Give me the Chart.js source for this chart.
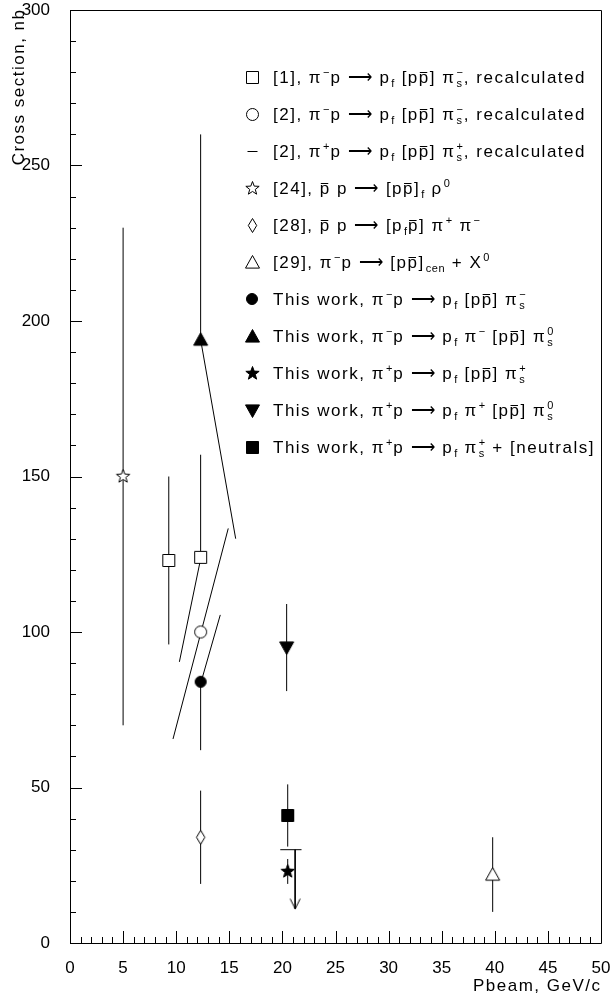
<!DOCTYPE html>
<html>
<head>
<meta charset="utf-8">
<script src="https://cdn.jsdelivr.net/npm/chart.js@4.4.0/dist/chart.umd.min.js"></script>
<style>
  html, body { margin: 0; padding: 0; background: #fff; }
  #wrap { width: 612px; height: 999px; }
</style>
</head>
<body>
<div id="wrap"><canvas id="xsec" width="612" height="999"></canvas></div>
<script>
// measured points, Pbeam (GeV/c) vs cross section (nb)
const squareOpen = [{x: 9.3, y: 123}, {x: 12.3, y: 124}];
const circleOpen = [{x: 12.3, y: 100}];
const starOpen = [{x: 5, y: 150}];
const diamondOpen = [{x: 12.3, y: 34}];
const triangleOpen = [{x: 39.8, y: 22}];
const circleFilled = [{x: 12.3, y: 84}];
const triangleFilled = [{x: 12.3, y: 194}];
const starFilled = [{x: 20.5, y: 23}];
const triangleDownFilled = [{x: 20.4, y: 95}];
const squareFilled = [{x: 20.5, y: 41}];

// vertical error bars: [x, low, high]
const errorBars = [
    [5, 70, 230], [9.3, 96, 150], [12.3, 124, 157], [12.3, 194, 260],
    [12.3, 62, 84], [12.3, 19, 49], [20.4, 81, 109], [20.5, 31, 51],
    [20.5, 19, 27], [39.8, 10, 34]
];
// tilted bars: [x1, y1, x2, y2]
const slopedBars = [
    [12.3, 194, 15.6, 130], [12.3, 123.5, 10.3, 90.4],
    [9.7, 65.6, 14.9, 133.3], [12.4, 84.6, 14.15, 105.5]
];
// upper limit [2] pi+ p : bar from x1 to x2 at y, arrow at xArrow down to yArrow
const upperLimit = {x1: 19.8, x2: 21.8, y: 30, xArrow: 21.2, yArrow: 11};

const xTicks = [0, 5, 10, 15, 20, 25, 30, 35, 40, 45, 50];
const yTicks = [0, 50, 100, 150, 200, 250, 300];

// legend rows; ^ = superscript, _ = subscript, ! = overlined next char, {} groups
const legendLabels = [
    '[1], π^{−}p ⟶ p_{f} [p!p] π_{s}^{−}, recalculated',
    '[2], π^{−}p ⟶ p_{f} [p!p] π_{s}^{−}, recalculated',
    '[2], π^{+}p ⟶ p_{f} [p!p] π_{s}^{+}, recalculated',
    '[24], !p p ⟶ [p!p]_{f} ρ^{0}',
    '[28], !p p ⟶ [p_{f}!p] π^{+} π^{−}',
    '[29], π^{−}p ⟶ [p!p]_{cen} + X^{0}',
    'This work, π^{−}p ⟶ p_{f} [p!p] π_{s}^{−}',
    'This work, π^{−}p ⟶ p_{f} π^{−} [p!p] π_{s}^{0}',
    'This work, π^{+}p ⟶ p_{f} [p!p] π_{s}^{+}',
    'This work, π^{+}p ⟶ p_{f} π^{+} [p!p] π_{s}^{0}',
    'This work, π^{+}p ⟶ p_{f} π_{s}^{+} + [neutrals]'
];

const FONT = '"Liberation Sans", Arial, sans-serif';
const GAP = 1.5; // the original font runs wide

function marker(shape, filled, r) {
    const s = Math.ceil(r * 2) + 5;
    const c = document.createElement('canvas');
    c.width = s; c.height = s;
    const g = c.getContext('2d');
    const m = s / 2;
    g.lineWidth = 1;
    g.strokeStyle = '#000';
    g.fillStyle = filled ? '#000' : '#fff';
    g.beginPath();
    if (shape === 'square') {
        g.rect(m - r, m - r, 2 * r, 2 * r);
    } else if (shape === 'circle') {
        g.arc(m, m, r, 0, Math.PI * 2);
    } else if (shape === 'triangle') {
        g.moveTo(m, m - r); g.lineTo(m + r, m + r * 0.8); g.lineTo(m - r, m + r * 0.8); g.closePath();
    } else if (shape === 'triangleDown') {
        g.moveTo(m, m + r); g.lineTo(m + r, m - r * 0.8); g.lineTo(m - r, m - r * 0.8); g.closePath();
    } else if (shape === 'diamond') {
        g.moveTo(m, m - r); g.lineTo(m + r * 0.6, m); g.lineTo(m, m + r); g.lineTo(m - r * 0.6, m); g.closePath();
    } else if (shape === 'star') {
        for (let i = 0; i < 10; i++) {
            const rr = i % 2 ? r * 0.42 : r;
            const a = -Math.PI / 2 + i * Math.PI / 5;
            g.lineTo(m + rr * Math.cos(a), m + rr * Math.sin(a));
        }
        g.closePath();
    } else if (shape === 'dash') {
        g.moveTo(m - r, m); g.lineTo(m + r, m);
        g.stroke();
        return c;
    } else if (shape === 'arrow') {
        g.moveTo(m - 5, m - 10); g.lineTo(m, m); g.lineTo(m + 5, m - 10);
        g.stroke();
        return c;
    }
    g.fill();
    g.stroke();
    return c;
}

const mk = {
    squareOpen: marker('square', false, 6),
    circleOpen: marker('circle', false, 6),
    dash: marker('dash', false, 5),
    starOpen: marker('star', false, 7),
    diamondOpen: marker('diamond', false, 7),
    triangleOpen: marker('triangle', false, 7),
    circleFilled: marker('circle', true, 5.5),
    triangleFilled: marker('triangle', true, 7),
    starFilled: marker('star', true, 7),
    triangleDownFilled: marker('triangleDown', true, 7),
    squareFilled: marker('square', true, 6),
    arrow: marker('arrow', false, 10)
};
const legendMarkers = [mk.squareOpen, mk.circleOpen, mk.dash, mk.starOpen, mk.diamondOpen, mk.triangleOpen,
    mk.circleFilled, mk.triangleFilled, mk.starFilled, mk.triangleDownFilled, mk.squareFilled];

function lineSet(points) {
    return {type: 'line', data: points, showLine: true, borderColor: '#000', borderWidth: 1,
        pointRadius: 0, fill: false, order: 2};
}
function pointSet(points, style) {
    return {type: 'scatter', data: points, pointStyle: style, pointRadius: 7, order: 0};
}

const datasets = [];
errorBars.forEach(e => datasets.push(lineSet([{x: e[0], y: e[1]}, {x: e[0], y: e[2]}])));
slopedBars.forEach(e => datasets.push(lineSet([{x: e[0], y: e[1]}, {x: e[2], y: e[3]}])));
datasets.push(lineSet([{x: upperLimit.x1, y: upperLimit.y}, {x: upperLimit.x2, y: upperLimit.y}]));
datasets.push(lineSet([{x: upperLimit.xArrow, y: upperLimit.y}, {x: upperLimit.xArrow, y: upperLimit.yArrow}]));
datasets.push(pointSet([{x: upperLimit.xArrow, y: upperLimit.yArrow}], mk.arrow));
datasets.push(pointSet(squareOpen, mk.squareOpen));
datasets.push(pointSet(circleOpen, mk.circleOpen));
datasets.push(pointSet(starOpen, mk.starOpen));
datasets.push(pointSet(diamondOpen, mk.diamondOpen));
datasets.push(pointSet(triangleOpen, mk.triangleOpen));
datasets.push(pointSet(circleFilled, mk.circleFilled));
datasets.push(pointSet(triangleFilled, mk.triangleFilled));
datasets.push(pointSet(starFilled, mk.starFilled));
datasets.push(pointSet(triangleDownFilled, mk.triangleDownFilled));
datasets.push(pointSet(squareFilled, mk.squareFilled));

// plain text drawn letter by letter with extra spacing
function spaced(ctx, str, x, y, gap) {
    for (const ch of str) {
        ctx.fillText(ch, x, y);
        x += ctx.measureText(ch).width + gap;
    }
    return x;
}
function spacedWidth(ctx, str, gap) {
    let w = 0;
    for (const ch of str) w += ctx.measureText(ch).width + gap;
    return w - gap;
}

// draw a label with simple sub/superscripts and overbars
function richText(ctx, str, x, y, size) {
    const big = size + 'px ' + FONT;
    const small = Math.round(size * 0.62) + 'px ' + FONT;
    let i = 0, subStart = null, subW = 0, lastWasSub = false;
    function group() {
        if (str[i] === '{') {
            const j = str.indexOf('}', i);
            const t = str.slice(i + 1, j);
            i = j + 1;
            return t;
        }
        return str[i++];
    }
    while (i < str.length) {
        const ch = str[i];
        if (ch === '^' || ch === '_') {
            i++;
            const t = group();
            ctx.font = small;
            const w = spacedWidth(ctx, t, 0.6);
            if (ch === '_') {
                spaced(ctx, t, x + 1, y + size * 0.22, 0.6);
                subStart = x; subW = w + 2; x += w + 2; lastWasSub = true;
            } else {
                const sx = lastWasSub ? subStart : x;
                spaced(ctx, t, sx + 1, y - size * 0.42, 0.6);
                if (lastWasSub) { x = subStart + Math.max(subW, w + 2); } else { x += w + 2; }
                lastWasSub = false;
            }
            continue;
        }
        if (ch === '!') {
            i++;
            const t = str[i++];
            ctx.font = big;
            const w = ctx.measureText(t).width;
            ctx.fillText(t, x, y);
            ctx.beginPath();
            ctx.lineWidth = 1;
            ctx.moveTo(x + 1, Math.round(y - size * 0.64) + 0.5);
            ctx.lineTo(x + w - 1, Math.round(y - size * 0.64) + 0.5);
            ctx.stroke();
            x += w + GAP;
            lastWasSub = false;
            continue;
        }
        ctx.font = big;
        ctx.fillText(ch, x, y);
        x += ctx.measureText(ch).width + GAP;
        i++;
        lastWasSub = false;
    }
    return x;
}

const framePlugin = {
    id: 'frame',
    afterDraw(chart) {
        const ctx = chart.ctx;
        const a = chart.chartArea;
        const xs = chart.scales.x, ys = chart.scales.y;
        ctx.save();
        ctx.strokeStyle = '#000';
        ctx.fillStyle = '#000';
        ctx.lineWidth = 1;
        ctx.beginPath();
        ctx.rect(Math.round(a.left) + 0.5, Math.round(a.top) + 0.5,
            Math.round(a.right - a.left), Math.round(a.bottom - a.top));
        ctx.stroke();
        // inward ticks
        ctx.beginPath();
        for (let v = 0; v <= 50; v++) {
            const px = Math.round(xs.getPixelForValue(v)) + 0.5;
            const len = v % 5 === 0 ? 12 : 6;
            ctx.moveTo(px, a.bottom);
            ctx.lineTo(px, a.bottom - len);
        }
        for (let v = 0; v <= 300; v += 10) {
            const py = Math.round(ys.getPixelForValue(v)) + 0.5;
            const len = v % 50 === 0 ? 12 : 6;
            ctx.moveTo(a.left, py);
            ctx.lineTo(a.left + len, py);
        }
        ctx.stroke();
        // axis titles
        ctx.font = '17px ' + FONT;
        ctx.textAlign = 'left';
        ctx.textBaseline = 'alphabetic';
        const xt = 'Pbeam, GeV/c';
        spaced(ctx, xt, a.right - spacedWidth(ctx, xt, GAP) - 1, 991, GAP);
        const yt = 'Cross section, nb';
        ctx.translate(24, a.top);
        ctx.rotate(-Math.PI / 2);
        spaced(ctx, yt, -spacedWidth(ctx, yt, GAP), 0, GAP);
        ctx.restore();

        // legend
        ctx.save();
        ctx.fillStyle = '#000';
        ctx.strokeStyle = '#000';
        ctx.textAlign = 'left';
        ctx.textBaseline = 'alphabetic';
        legendLabels.forEach((lab, k) => {
            const cy = 77 + k * 37;
            const m = legendMarkers[k];
            ctx.drawImage(m, Math.round(252 - m.width / 2), Math.round(cy - m.height / 2));
            richText(ctx, lab, 273, cy + 6, 17);
        });
        ctx.restore();
    }
};

new Chart(document.getElementById('xsec'), {
    data: {datasets: datasets},
    options: {
        responsive: false,
        animation: false,
        devicePixelRatio: 1,
        layout: {padding: {top: 10, right: 11, left: 0, bottom: 0}},
        plugins: {legend: {display: false}, tooltip: {enabled: false}},
        scales: {
            x: {
                type: 'linear', min: 0, max: 50,
                afterFit: s => { s.height = 56; s.paddingLeft = 0; s.paddingRight = 0; },
                afterBuildTicks: s => { s.ticks = xTicks.map(v => ({value: v})); },
                grid: {display: false},
                border: {display: false},
                ticks: {color: '#000', font: {family: FONT, size: 17}, padding: 7, maxRotation: 0}
            },
            y: {
                type: 'linear', min: 0, max: 300,
                afterFit: s => { s.width = 70; s.paddingTop = 0; s.paddingBottom = 0; },
                afterBuildTicks: s => { s.ticks = yTicks.map(v => ({value: v})); },
                grid: {display: false},
                border: {display: false},
                ticks: {color: '#000', font: {family: FONT, size: 17}, padding: 12}
            }
        }
    },
    plugins: [framePlugin]
});
</script>
</body>
</html>
